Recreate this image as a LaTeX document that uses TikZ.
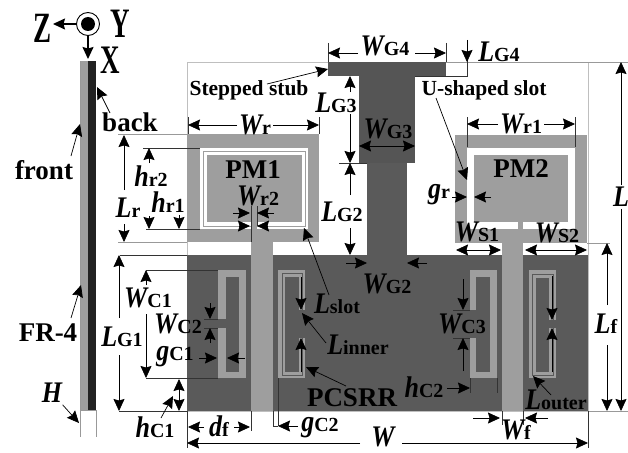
\documentclass[tikz,border=0pt]{standalone}
\usepackage{graphicx}
\usepackage{fontspec}
\setmainfont{Liberation Serif}
\usetikzlibrary{arrows.meta}
\definecolor{patchgray}{HTML}{9E9E9E}
\definecolor{gnddark}{HTML}{5A5A5A}
\definecolor{stubdark}{HTML}{555555}
\definecolor{backdark}{HTML}{222222}
\newcommand{\dimlab}[2]{\scalebox{1}[1.15]{\fontsize{26}{26}\selectfont\bfseries\itshape #1}{\fontsize{20}{20}\selectfont\bfseries #2}}

\begin{document}
\begin{tikzpicture}[x=1pt, y=-1pt,
    arr/.style={-{Stealth[length=12pt,width=11pt,inset=1.5pt]}, line width=0.7pt},
    dbl/.style={{Stealth[length=12pt,width=11pt,inset=1.5pt]}-{Stealth[length=12pt,width=11pt,inset=1.5pt]}, line width=0.7pt},
    ext/.style={line width=0.7pt, draw=black!80},
    extg/.style={line width=0.8pt, draw=black!40},
    ann/.style={inner sep=0pt, outer sep=3pt, font=\bfseries\fontsize{27}{27}\selectfont},
    small/.style={inner sep=0pt, outer sep=2pt, font=\bfseries\fontsize{21.5}{21.5}\selectfont},
    dimn/.style={inner sep=0pt, outer sep=2pt},
    axis/.style={inner sep=0pt, font=\bfseries\fontsize{27}{27}\selectfont}
  ]
  \useasboundingbox (0,0) rectangle (628,452);
  % Side view
  \fill[patchgray] (80,61) rectangle (88,410);
  \fill[backdark] (88,61) rectangle (96,410);
  \draw[extg] (80,61) -- (80,437);
  \draw[extg] (96,410) -- (96,437);
  \draw[extg] (80,410) -- (96,410);
  % Axes
  \node[axis] (axZ) at (43,28) {\scalebox{1}[1.6]{Z}};
  \node[axis] (axY) at (120,24) {\scalebox{1}[1.55]{Y}};
  \node[axis] (axX) at (110,60) {\scalebox{1}[1.5]{X}};
  \fill[black] (88,24) circle (7);
  \draw[line width=0.9pt] (88,24) circle (11.5);
  \node[inner sep=0pt, minimum size=23pt, circle] (axO) at (88,24) {};
  \draw[arr, line width=1.4pt] (axO) -- (53,24);
  \draw[arr, line width=1.4pt] (axO) -- (88,59);
  % Board outline
  \draw[line width=0.6pt, draw=black!25] (187,62) rectangle (588,411);
  \draw[extg] (446,62) -- (628,62);
  \draw[extg] (588,411) -- (628,411);
  % Ground with stepped stub
  \fill[gnddark] (187,255) rectangle (588,411);
  \fill[stubdark] (328,62) rectangle (446,76);
  \fill[stubdark] (359,76) rectangle (415,163);
  \fill[gnddark] (367,163) rectangle (407,255);
  % Patch PM1 and its double slot
  \fill[patchgray] (187,134) rectangle (319,242);
  \fill[white] (200,148) rectangle (308,229);
  \draw[line width=0.9pt, draw=patchgray] (203,151.5) rectangle (305,226.5);
  \fill[patchgray] (206.5,155) rectangle (302,222);
  \fill[patchgray] (251,222) rectangle (257,242);
  % Patch PM2 and its U-shaped slot
  \fill[patchgray] (455,135) rectangle (587,243);
  \fill[white] (467,148) rectangle (575,229);
  \fill[patchgray] (474,155) rectangle (568,222);
  \fill[patchgray] (518,222) rectangle (523,243);
  % Feed lines
  \fill[patchgray] (251,242) rectangle (273,411);
  \fill[patchgray] (502,243) rectangle (523,411);
  % CSRR 1 and 3 (single ring)
  \fill[patchgray] (218,270) rectangle (246,378);
  \fill[gnddark] (226,277) rectangle (239,372);
  \fill[gnddark] (217,319) rectangle (227,328);
  \fill[patchgray] (470,270) rectangle (497,378);
  \fill[gnddark] (476,277) rectangle (490,372);
  \fill[gnddark] (469,310) rectangle (477,338);
  % CSRR 2 and 4 (double ring)
  \fill[patchgray] (278,270) rectangle (305,378);
  \draw[line width=0.8pt, draw=black!65] (282,273.5) rectangle (302,375);
  \fill[gnddark] (285,277) rectangle (299,372);
  \fill[gnddark] (298,310) rectangle (306,338);
  \fill[patchgray] (529,270) rectangle (556,378);
  \draw[line width=0.8pt, draw=black!65] (532,274) rectangle (553,375);
  \fill[gnddark] (536,278) rectangle (549,372);
  \fill[gnddark] (548,320) rectangle (557,328);
  % Side view labels
  \node[ann] (back) at (130,122) {back};
  \node[ann] (front) at (44,170) {front};
  \node[ann] (fr) at (48,333) {FR-4};
  \node[dimn] (H) at (52,393) {\dimlab{H}{}};
  \draw[arr] (110,113) -- (97,87);
  \draw[arr] (71,156) -- (80,124);
  \draw[arr] (71,318) -- (81,285);
  \draw[arr] (H) -- (79,423);
  % Callouts
  \node[small] (stepped) at (249,90) {Stepped stub};
  \node[small] (uslot) at (484,90) {U-shaped slot};
  \node[ann] (PM1) at (253,170) {PM1};
  \node[ann] (PM2) at (521,169) {PM2};
  \node[ann] (pcsrr) at (352,398) {PCSRR};
  \draw[arr] (267,84) -- (328,69);
  \draw[arr] (436,98) -- (467,180);
  \draw[arr] (346,386) -- (306,367);
  % Top dimensions
  \node[dimn] (WG4) at (385,46) {\dimlab{W}{G4}};
  \draw[ext] (328,43) -- (328,62);
  \draw[ext] (446,43) -- (446,62);
  \draw[arr] (358,53) -- (328,53);
  \draw[arr] (415,53) -- (446,53);
  \node[dimn] (LG4) at (499,52) {\dimlab{L}{G4}};
  \draw[ext] (415,76) -- (467,76) -- (467,40);
  \draw[arr] (467,40) -- (467,62);
  \node[dimn] (Wr) at (255,125) {\dimlab{W}{r}};
  \draw[ext] (188,117) -- (188,134);
  \draw[ext] (319,117) -- (319,134);
  \draw[arr] (Wr) -- (188,125);
  \draw[arr] (Wr) -- (319,125);
  \node[dimn] (Wr1) at (521,124) {\dimlab{W}{r1}};
  \draw[ext] (467,117) -- (467,147);
  \draw[ext] (575,117) -- (575,147);
  \draw[arr] (Wr1) -- (467,124);
  \draw[arr] (Wr1) -- (575,124);
  % Stub dimensions
  \node[dimn] (LG3) at (336,103) {\dimlab{L}{G3}};
  \node[dimn] (WG3) at (388,129) {\dimlab{W}{G3}};
  \node[dimn] (LG2) at (342,212) {\dimlab{L}{G2}};
  \node[dimn] (WG2) at (387,284) {\dimlab{W}{G2}};
  \draw[ext] (339,163) -- (367,163);
  \draw[arr] (350,92) -- (350,76);
  \draw[arr] (350,114) -- (350,163);
  \draw[arr] (350,195) -- (350,163);
  \draw[arr] (350,228) -- (350,255);
  \draw[dbl] (359,146) -- (415,146);
  \draw[arr] (346,263) -- (367,263);
  \draw[arr] (427,263) -- (407,263);
  % Patch dimensions
  \node[dimn] (gr) at (439,195) {\dimlab{g}{r}};
  \draw[arr] (452,197) -- (467,197);
  \draw[arr] (491,197) -- (474,197);
  \node[dimn] (WS1) at (477,232) {\dimlab{W}{S1}};
  \node[dimn] (WS2) at (557,233) {\dimlab{W}{S2}};
  \draw[dbl] (456,250) -- (501,250);
  \draw[dbl] (525,250) -- (587,250);
  \node[dimn] (Wr2) at (258,196) {\dimlab{W}{r2}};
  \draw[ext] (251,206) -- (251,242);
  \draw[ext] (257,206) -- (257,226);
  \draw[arr] (233,213) -- (250,213);
  \draw[arr] (274,213) -- (257,213);
  \draw[arr] (239,226) -- (250,226);
  \draw[arr] (268,226) -- (257,226);
  % Left dimensions
  \draw[extg] (118,134) -- (187,134);
  \draw[extg] (118,242) -- (187,242);
  \draw[ext] (143,148) -- (200,148);
  \draw[ext] (146,229) -- (200,229);
  \node[dimn] (Lr) at (128,208) {\dimlab{L}{r}};
  \draw[arr] (124,190) -- (124,135);
  \draw[arr] (124,224) -- (124,242);
  \node[dimn] (hr2) at (151,176) {\dimlab{h}{r2}};
  \node[dimn] (hr1) at (168,202) {\dimlab{h}{r1}};
  \draw[arr] (149,163) -- (149,148);
  \draw[arr] (149,216) -- (149,229);
  \draw[arr] (179,215) -- (179,229);
  \draw[ext] (120,255) -- (187,255);
  \draw[ext] (119,411) -- (187,411);
  \node[dimn] (LG1) at (122,337) {\dimlab{L}{G1}};
  \draw[arr] (119,318) -- (119,255);
  \draw[arr] (119,355) -- (119,411);
  \draw[ext] (146,270) -- (218,270);
  \draw[ext] (146,378) -- (218,378);
  \node[dimn] (WC1) at (148,298) {\dimlab{W}{C1}};
  \draw[arr] (146,285) -- (146,270);
  \draw[arr] (146,314) -- (146,378);
  \node[dimn] (WC2) at (178,324) {\dimlab{W}{C2}};
  \draw[ext] (204,319) -- (218,319);
  \draw[ext] (204,328) -- (218,328);
  \draw[arr] (210,303) -- (210,319);
  \draw[arr] (210,343) -- (210,328);
  \node[dimn] (gC1) at (175,357) {\dimlab{g}{C1}};
  \draw[arr] (199,358) -- (217,358);
  \draw[arr] (245,358) -- (227,358);
  \draw[dbl] (179,379) -- (179,411);
  \node[dimn] (hC1) at (155,427) {\dimlab{h}{C1}};
  \draw[arr] (161,418) -- (173,396);
  % Bottom dimensions
  \draw[ext] (187,411) -- (187,448);
  \draw[ext] (588,411) -- (588,448);
  \draw[ext] (251,411) -- (251,431);
  \node[dimn] (df) at (219,426) {\dimlab{d}{f}};
  \draw[arr] (204,427) -- (188,427);
  \draw[arr] (234,427) -- (250,427);
  \draw[ext] (278,378) -- (278,426);
  \draw[ext] (273,411) -- (273,426) -- (278,426);
  \node[dimn] (gC2) at (320,428) {\dimlab{g}{C2}};
  \draw[arr] (298,426) -- (278,426);
  \node[dimn] (Wtotal) at (383,437) {\dimlab{W}{}};
  \draw[arr] (360,443) -- (187,443);
  \draw[arr] (402,443) -- (588,443);
  \draw[ext] (502,411) -- (502,425);
  \draw[ext] (523,411) -- (523,425);
  \node[dimn] (Wf) at (516,430) {\dimlab{W}{f}};
  \draw[arr] (473,418) -- (500,418);
  \draw[arr] (548,418) -- (525,418);
  % Ring dimensions
  \node[dimn] (Lslot) at (337,304) {\dimlab{L}{slot}};
  \node[dimn] (Linner) at (358,345) {\dimlab{L}{inner}};
  \node[dimn] (Louter) at (556,400) {\dimlab{L}{outer}};
  \draw[arr] (329,295) -- (304,228);
  \draw[arr] (326,343) -- (302,313);
  \draw[arr] (551,395) -- (533,376);
  \draw[arr] (301,277) -- (301,310);
  \draw[arr] (301,372) -- (301,338);
  \draw[arr] (552,276) -- (552,320);
  \draw[arr] (552,372) -- (552,328);
  \node[dimn] (WC3) at (462,324) {\dimlab{W}{C3}};
  \draw[ext] (453,310) -- (470,310);
  \draw[ext] (453,338) -- (470,338);
  \draw[arr] (463,279) -- (463,310);
  \draw[arr] (463,371) -- (463,338);
  \node[dimn] (hC2) at (424,387) {\dimlab{h}{C2}};
  \draw[ext] (470,378) -- (470,393);
  \draw[ext] (497,378) -- (497,393);
  \draw[arr] (447,388) -- (470,388);
  % Right dimensions
  \draw[extg] (587,243) -- (610,243);
  \node[dimn] (Lf) at (606,324) {\dimlab{L}{f}};
  \draw[arr] (607,305) -- (607,243);
  \draw[arr] (607,345) -- (607,411);
  \node[dimn] (Lbig) at (621,197) {\dimlab{L}{}};
  \draw[arr] (Lbig) -- (621,62);
  \draw[arr] (Lbig) -- (621,411);
\end{tikzpicture}
\end{document}
